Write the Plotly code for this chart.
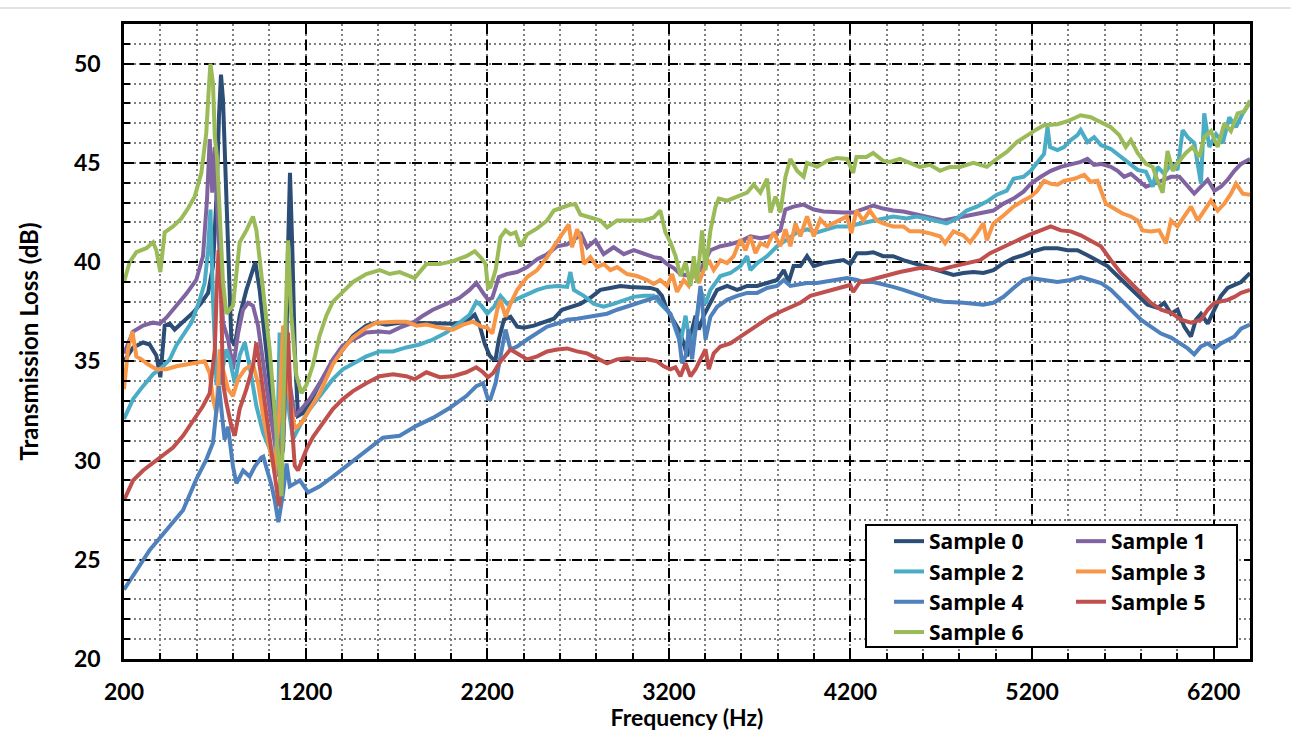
import plotly.graph_objects as go

# ---------------- data ----------------
f0 = [200, 250, 305, 341, 378, 400, 424, 452, 479, 525, 580, 626, 663, 690, 709, 723, 734, 745, 760, 773,
      791, 810, 837, 874, 901, 923, 947, 975, 1002, 1030, 1054, 1076, 1094, 1103, 1114, 1127, 1140, 1158, 1186,
      1223, 1278, 1350, 1405, 1461, 1534, 1589, 1644, 1718, 1791, 1865, 1938, 2012, 2085, 2131, 2159, 2186,
      2213, 2232, 2246, 2264, 2292, 2328, 2365, 2402, 2457, 2512, 2567, 2612, 2658, 2713, 2768, 2823, 2878,
      2933, 2988, 3043, 3098, 3135, 3162, 3190, 3227, 3255, 3282, 3301, 3328, 3347, 3365, 3392, 3420, 3466,
      3521, 3576, 3631, 3686, 3741, 3796, 3833, 3860, 3887, 3924, 3961, 3998, 4052, 4107, 4162, 4199, 4236,
      4288, 4325, 4380, 4435, 4491, 4546, 4601, 4656, 4712, 4767, 4822, 4877, 4932, 4987, 5043, 5098, 5153,
      5193, 5266, 5340, 5395, 5450, 5505, 5560, 5615, 5671, 5726, 5781, 5836, 5891, 5928, 5965, 6001, 6038,
      6075, 6102, 6130, 6167, 6204, 6240, 6277, 6314, 6351, 6400]
s0 = [35.0, 35.7, 35.95, 35.85, 35.3, 34.2, 36.8, 36.9, 36.6, 37.0, 37.45, 37.95, 38.45, 39.8, 43.2, 47.35,
      49.45, 48.2, 44.0, 39.8, 36.1, 35.8, 37.3, 38.6, 39.3, 40.0, 38.6, 36.3, 33.9, 31.4, 29.6, 30.6, 35.6,
      40.6, 44.5, 40.6, 35.6, 32.25, 32.4, 32.9, 33.9, 34.9, 35.6, 36.3, 36.8, 36.95, 36.85, 36.95, 36.95,
      36.95, 36.9, 36.9, 37.0, 37.35, 36.8, 35.9, 35.3, 35.1, 35.1, 36.1, 37.1, 37.25, 36.75, 36.7, 36.8,
      37.0, 37.15, 37.6, 37.75, 37.9, 38.2, 38.6, 38.7, 38.8, 38.75, 38.7, 38.7, 38.6, 38.3, 37.6, 37.0, 36.6,
      35.9, 35.25, 36.6, 37.3, 36.6, 37.3, 37.8, 38.6, 38.8, 38.6, 38.8, 38.8, 38.95, 39.1, 39.6, 39.0, 39.8,
      39.8, 40.3, 39.8, 39.95, 40.05, 40.1, 39.9, 40.45, 40.45, 40.5, 40.3, 40.3, 40.1, 39.95, 39.85, 39.7,
      39.5, 39.35, 39.45, 39.5, 39.45, 39.6, 39.95, 40.2, 40.35, 40.5, 40.7, 40.7, 40.6, 40.6, 40.35, 40.1,
      39.8, 39.3, 38.8, 38.3, 37.85, 37.7, 37.95, 37.4, 37.6, 36.75, 36.25, 37.1, 37.4, 36.9, 37.6, 38.3,
      38.7, 38.85, 39.0, 39.45]

f1 = [200, 250, 305, 360, 396, 433, 488, 543, 598, 635, 657, 672, 686, 700, 712, 727, 745, 773, 800, 828,
      855, 883, 910, 938, 966, 1002, 1030, 1054, 1076, 1094, 1112, 1140, 1177, 1223, 1278, 1350, 1405, 1461,
      1534, 1608, 1663, 1718, 1791, 1846, 1901, 1975, 2048, 2103, 2140, 2177, 2204, 2228, 2264, 2310, 2365,
      2420, 2475, 2530, 2585, 2640, 2695, 2713, 2750, 2796, 2841, 2896, 2952, 3007, 3062, 3117, 3153, 3190,
      3227, 3264, 3319, 3374, 3429, 3484, 3539, 3594, 3649, 3704, 3759, 3814, 3842, 3887, 3942, 3998, 4052,
      4107, 4162, 4215, 4270, 4325, 4380, 4435, 4491, 4546, 4601, 4656, 4712, 4767, 4822, 4877, 4932, 4987,
      5043, 5098, 5153, 5193, 5248, 5303, 5358, 5413, 5468, 5505, 5542, 5579, 5634, 5671, 5707, 5744, 5781,
      5827, 5873, 5919, 5965, 6011, 6057, 6093, 6130, 6167, 6204, 6240, 6277, 6314, 6351, 6400]
s1 = [35.4, 36.5, 36.8, 36.95, 36.9, 37.2, 37.8, 38.4, 39.1, 40.3, 43.15, 46.2, 43.5, 45.8, 43.0, 39.8,
      36.95, 36.1, 34.6, 36.4, 37.6, 37.95, 37.8, 36.8, 34.8, 32.6, 30.9, 29.2, 33.9, 36.95, 33.9, 32.25,
      32.6, 33.1, 33.9, 35.1, 35.8, 36.1, 36.45, 36.5, 36.45, 36.7, 36.95, 37.3, 37.6, 37.9, 38.2, 38.6,
      38.95, 38.45, 38.1, 38.2, 39.25, 39.4, 39.5, 39.75, 40.15, 40.4, 40.8, 40.9, 41.25, 41.5, 40.75, 41.1,
      40.4, 40.75, 40.4, 40.6, 40.4, 40.25, 40.2, 39.9, 39.7, 39.4, 39.3, 39.6, 40.6, 40.8, 40.9, 41.05,
      41.3, 41.2, 41.3, 41.6, 42.65, 42.8, 42.9, 42.65, 42.55, 42.5, 42.5, 42.5, 42.7, 42.85, 42.7, 42.6,
      42.55, 42.45, 42.35, 42.2, 42.1, 42.2, 42.3, 42.35, 42.45, 42.6, 42.95, 43.2, 43.55, 43.95, 44.3,
      44.6, 44.8, 44.9, 45.05, 45.2, 44.9, 44.95, 44.8, 44.6, 44.3, 44.45, 44.15, 43.8, 43.95, 44.15, 44.3,
      44.3, 43.8, 43.45, 43.8, 44.15, 43.6, 43.8, 44.15, 44.6, 44.95, 45.2]

f2 = [200, 250, 305, 360, 415, 452, 488, 525, 571, 617, 644, 663, 676, 690, 709, 727, 745, 764, 782, 810,
      837, 865, 892, 929, 966, 1002, 1030, 1048, 1057, 1072, 1094, 1112, 1131, 1168, 1223, 1278, 1350, 1405,
      1461, 1534, 1608, 1681, 1754, 1828, 1901, 1975, 2048, 2103, 2140, 2168, 2200, 2237, 2273, 2310, 2365,
      2420, 2475, 2530, 2585, 2640, 2658, 2677, 2732, 2786, 2841, 2896, 2952, 3007, 3062, 3117, 3153, 3190,
      3209, 3237, 3264, 3292, 3319, 3347, 3374, 3402, 3429, 3484, 3539, 3594, 3631, 3649, 3686, 3741, 3796,
      3851, 3906, 3961, 4016, 4071, 4126, 4181, 4236, 4252, 4325, 4380, 4435, 4509, 4564, 4620, 4675, 4730,
      4785, 4840, 4896, 4951, 5006, 5061, 5098, 5153, 5193, 5229, 5266, 5285, 5299, 5340, 5376, 5413, 5450,
      5468, 5505, 5542, 5579, 5634, 5671, 5707, 5744, 5781, 5827, 5864, 5891, 5928, 5965, 6001, 6029, 6057,
      6093, 6130, 6148, 6176, 6213, 6250, 6286, 6323, 6360, 6400]
s2 = [32.1, 33.1, 33.75, 34.35, 34.75, 35.1, 35.8, 36.3, 36.95, 38.1, 38.95, 40.6, 42.65, 38.1, 33.9, 33.9,
      34.75, 35.6, 35.1, 33.9, 35.3, 35.95, 34.75, 32.75, 31.4, 30.6, 29.7, 32.25, 36.45, 30.6, 33.9, 32.25,
      31.1, 31.75, 32.6, 33.25, 34.1, 34.6, 34.9, 35.25, 35.5, 35.5, 35.7, 35.85, 36.1, 36.45, 36.95, 37.35,
      38.0, 37.8, 37.4, 37.75, 38.3, 37.9, 38.15, 38.4, 38.6, 38.75, 38.8, 38.75, 39.5, 38.6, 38.3, 37.9,
      37.75, 37.9, 38.1, 38.25, 38.3, 38.3, 37.9, 37.6, 37.4, 36.6, 35.9, 37.3, 35.75, 36.6, 38.6, 37.9,
      38.6, 39.3, 39.45, 39.8, 40.3, 39.6, 39.95, 40.3, 40.8, 41.15, 41.5, 41.65, 41.5, 41.65, 41.8, 41.8,
      41.9, 41.95, 42.1, 42.2, 42.3, 42.2, 42.3, 42.2, 42.05, 41.95, 42.2, 42.6, 42.8, 43.05, 43.4, 43.6,
      44.2, 44.3, 44.6, 45.0, 45.45, 46.8, 45.8, 45.65, 45.8, 46.15, 46.4, 46.65, 46.05, 46.3, 45.9, 45.7,
      45.45, 45.15, 44.95, 44.65, 44.55, 43.8, 44.8, 44.45, 44.95, 44.65, 46.65, 46.3, 46.0, 43.95, 47.5,
      45.8, 46.45, 46.0, 47.3, 46.8, 47.5, 48.05]

f3 = [200, 222, 246, 268, 296, 332, 378, 433, 488, 543, 598, 644, 672, 690, 709, 727, 745, 773, 800, 828,
      865, 910, 938, 966, 1002, 1030, 1054, 1076, 1094, 1112, 1140, 1177, 1223, 1278, 1350, 1405, 1461,
      1534, 1589, 1644, 1699, 1754, 1810, 1865, 1938, 2012, 2067, 2122, 2168, 2200, 2228, 2255, 2273, 2301,
      2328, 2365, 2420, 2475, 2530, 2567, 2603, 2631, 2649, 2667, 2695, 2713, 2732, 2768, 2805, 2841, 2878,
      2915, 2970, 3025, 3080, 3117, 3153, 3190, 3218, 3245, 3282, 3310, 3337, 3365, 3392, 3420, 3447, 3484,
      3521, 3557, 3594, 3622, 3649, 3677, 3704, 3741, 3777, 3814, 3842, 3869, 3897, 3924, 3961, 3998, 4034,
      4071, 4107, 4144, 4181, 4205, 4233, 4270, 4307, 4344, 4380, 4435, 4491, 4527, 4582, 4638, 4693, 4721,
      4767, 4822, 4859, 4896, 4932, 4951, 4987, 5043, 5098, 5153, 5193, 5229, 5266, 5303, 5340, 5376, 5432,
      5487, 5523, 5560, 5579, 5606, 5652, 5698, 5744, 5781, 5808, 5854, 5900, 5937, 5965, 6001, 6038, 6075,
      6112, 6148, 6185, 6222, 6259, 6295, 6323, 6360, 6400]
s3 = [33.6, 35.6, 36.5, 35.25, 35.1, 34.85, 34.6, 34.6, 34.75, 34.85, 34.9, 35.0, 34.4, 33.1, 32.4, 35.6,
      34.6, 33.6, 33.25, 34.1, 34.6, 34.85, 33.9, 32.25, 30.6, 29.4, 32.25, 36.8, 35.6, 33.25, 31.6, 31.9,
      32.6, 33.4, 34.85, 35.6, 36.2, 36.7, 36.95, 37.0, 37.0, 37.0, 36.8, 36.85, 36.7, 36.6, 36.85, 37.0,
      36.75, 36.7, 36.4, 37.6, 38.1, 37.25, 37.9, 38.6, 39.25, 39.6, 40.25, 40.8, 41.25, 41.65, 41.9, 40.75,
      41.65, 41.25, 39.9, 40.25, 39.75, 39.9, 39.6, 39.75, 39.4, 39.3, 39.1, 38.9, 39.1, 38.8, 39.4, 38.5,
      39.1, 38.8, 39.45, 38.95, 39.6, 40.1, 39.6, 40.1, 39.95, 40.3, 41.15, 40.6, 41.3, 40.45, 40.95, 40.8,
      41.5, 40.8, 41.65, 40.8, 41.95, 41.3, 42.3, 41.3, 42.15, 41.8, 41.95, 42.15, 42.3, 41.45, 42.6, 42.1,
      42.6, 42.1, 41.95, 41.8, 41.8, 41.55, 41.55, 41.45, 41.3, 40.95, 41.55, 41.35, 41.0, 41.45, 41.95,
      41.1, 41.95, 42.35, 42.8, 43.1, 43.3, 43.6, 44.1, 43.95, 43.9, 44.1, 44.2, 44.4, 44.05, 44.1, 43.6,
      42.95, 42.7, 42.45, 42.3, 42.1, 41.6, 41.55, 41.6, 40.95, 42.1, 41.8, 42.3, 42.8, 42.1, 42.6, 43.1,
      42.6, 42.95, 43.45, 43.95, 43.45, 43.4]

f4 = [200, 342, 434, 525, 598, 653, 690, 709, 723, 736, 754, 773, 800, 819, 846, 856, 892, 920, 956, 967,
      984, 1011, 1030, 1050, 1076, 1095, 1113, 1168, 1214, 1278, 1352, 1443, 1535, 1626, 1718, 1810, 1901,
      1993, 2085, 2140, 2177, 2204, 2218, 2246, 2273, 2301, 2328, 2365, 2420, 2475, 2530, 2585, 2640, 2695,
      2750, 2805, 2860, 2915, 2970, 3025, 3080, 3135, 3172, 3208, 3227, 3255, 3273, 3292, 3310, 3328, 3347,
      3374, 3402, 3429, 3466, 3521, 3576, 3631, 3686, 3741, 3796, 3833, 3869, 3906, 3961, 4016, 4071, 4126,
      4181, 4236, 4270, 4325, 4380, 4435, 4491, 4546, 4601, 4656, 4712, 4767, 4822, 4877, 4932, 4987, 5043,
      5098, 5153, 5193, 5266, 5340, 5413, 5468, 5523, 5579, 5634, 5689, 5744, 5799, 5854, 5910, 5965, 6020,
      6057, 6093, 6130, 6167, 6204, 6240, 6277, 6314, 6351, 6400]
s4 = [23.5, 25.5, 26.5, 27.5, 29.05, 30.05, 30.9, 32.6, 33.75, 32.6, 31.05, 31.7, 29.7, 28.85, 29.4, 29.5,
      29.2, 29.7, 30.15, 30.2, 29.65, 28.8, 28.0, 26.9, 28.35, 29.85, 28.7, 29.0, 28.4, 28.7, 29.2, 29.85,
      30.45, 31.15, 31.25, 31.75, 32.15, 32.65, 33.25, 33.75, 33.9, 33.1, 33.1, 33.9, 35.25, 36.6, 35.6,
      35.75, 36.1, 36.4, 36.75, 36.9, 37.1, 37.15, 37.25, 37.35, 37.4, 37.6, 37.75, 37.9, 38.1, 38.25, 37.8,
      37.4, 36.95, 36.25, 34.9, 35.25, 36.6, 35.1, 36.6, 38.8, 36.1, 37.25, 37.75, 38.1, 38.3, 38.45, 38.45,
      38.7, 38.8, 39.1, 38.8, 38.85, 38.95, 38.95, 39.05, 39.1, 39.2, 39.1, 39.0, 39.0, 38.85, 38.75, 38.6,
      38.45, 38.25, 38.1, 38.0, 38.0, 37.95, 37.9, 37.85, 37.95, 38.25, 38.7, 39.1, 39.2, 39.1, 39.0, 39.1,
      39.25, 39.1, 38.95, 38.6, 38.1, 37.6, 37.1, 36.75, 36.4, 36.2, 35.9, 35.65, 35.35, 35.75, 35.9, 35.65,
      35.9, 36.1, 36.25, 36.65, 36.85]

f5 = [200, 250, 305, 360, 415, 470, 525, 580, 635, 672, 700, 712, 721, 732, 745, 764, 791, 810, 837, 874,
      910, 929, 947, 984, 1021, 1054, 1076, 1094, 1103, 1121, 1140, 1158, 1204, 1241, 1295, 1350, 1405,
      1461, 1534, 1608, 1681, 1754, 1800, 1865, 1938, 2012, 2085, 2140, 2177, 2204, 2232, 2273, 2328, 2365,
      2420, 2475, 2530, 2585, 2640, 2695, 2750, 2805, 2860, 2915, 2970, 3025, 3080, 3135, 3172, 3208, 3236,
      3264, 3292, 3319, 3347, 3374, 3402, 3420, 3447, 3484, 3539, 3594, 3649, 3704, 3759, 3814, 3869, 3924,
      3979, 4034, 4089, 4144, 4199, 4215, 4252, 4307, 4362, 4417, 4472, 4527, 4582, 4638, 4693, 4748, 4803,
      4859, 4914, 4969, 5024, 5080, 5135, 5190, 5248, 5303, 5358, 5413, 5468, 5523, 5579, 5634, 5689, 5744,
      5799, 5854, 5910, 5965, 6020, 6075, 6130, 6167, 6204, 6240, 6277, 6314, 6351, 6400]
s5 = [28.0, 29.0, 29.5, 29.9, 30.25, 30.65, 31.25, 32.0, 32.75, 33.4, 35.6, 38.95, 40.6, 39.3, 33.9, 32.9,
      31.75, 31.25, 32.6, 33.6, 34.75, 35.95, 34.75, 32.25, 29.75, 27.7, 31.4, 35.6, 36.45, 32.25, 29.75,
      29.5, 30.55, 31.2, 31.9, 32.6, 33.1, 33.5, 33.9, 34.25, 34.35, 34.25, 34.1, 34.45, 34.2, 34.25, 34.45,
      34.7, 34.45, 34.2, 34.4, 35.0, 35.6, 35.4, 35.1, 35.25, 35.5, 35.6, 35.65, 35.5, 35.4, 35.15, 34.9,
      35.1, 35.15, 35.1, 35.1, 35.0, 34.75, 34.6, 34.7, 34.25, 34.9, 34.25, 34.6, 35.1, 35.6, 34.6, 35.4,
      35.75, 35.9, 36.25, 36.6, 36.95, 37.25, 37.5, 37.75, 37.95, 38.3, 38.45, 38.55, 38.7, 38.85, 38.5,
      39.0, 39.1, 39.25, 39.35, 39.5, 39.6, 39.7, 39.7, 39.6, 39.75, 39.85, 39.95, 40.1, 40.45, 40.7, 40.95,
      41.2, 41.4, 41.6, 41.8, 41.6, 41.55, 41.35, 41.1, 40.8, 40.1, 39.45, 38.95, 38.45, 37.95, 37.6, 37.45,
      37.1, 36.95, 37.1, 37.6, 37.95, 38.0, 38.1, 38.25, 38.45, 38.6]

f6 = [200, 231, 268, 323, 360, 378, 400, 424, 470, 516, 552, 589, 626, 653, 668, 676, 690, 700, 712, 727,
      745, 764, 800, 837, 874, 910, 929, 966, 1002, 1039, 1067, 1085, 1103, 1121, 1149, 1177, 1204, 1240,
      1277, 1314, 1350, 1405, 1461, 1534, 1608, 1663, 1718, 1773, 1800, 1865, 1938, 2012, 2085, 2131, 2168,
      2191, 2204, 2218, 2246, 2273, 2301, 2328, 2356, 2383, 2420, 2475, 2530, 2567, 2612, 2658, 2686, 2713,
      2768, 2823, 2860, 2915, 2988, 3062, 3117, 3153, 3181, 3209, 3237, 3264, 3292, 3319, 3337, 3356, 3383,
      3402, 3429, 3457, 3475, 3521, 3576, 3631, 3667, 3704, 3741, 3759, 3787, 3814, 3842, 3869, 3906, 3942,
      3961, 4016, 4071, 4126, 4181, 4215, 4233, 4288, 4325, 4380, 4417, 4472, 4527, 4582, 4638, 4693, 4748,
      4803, 4877, 4951, 5006, 5061, 5116, 5172, 5227, 5266, 5340, 5395, 5468, 5523, 5579, 5634, 5680, 5716,
      5744, 5781, 5827, 5864, 5891, 5919, 5946, 5974, 6011, 6047, 6084, 6121, 6148, 6185, 6222, 6259, 6295,
      6332, 6369, 6400]
s6 = [39.0, 40.0, 40.5, 40.7, 41.0, 40.6, 39.5, 41.5, 41.8, 42.2, 42.7, 43.3, 44.5, 46.5, 48.9, 50.0, 49.0,
      46.3, 45.3, 42.7, 39.0, 37.4, 37.8, 41.0, 41.6, 42.3, 41.6, 38.6, 35.6, 31.4, 28.2, 35.6, 41.1, 37.3,
      34.3, 33.4, 33.8, 34.8, 36.3, 37.3, 38.0, 38.5, 39.0, 39.4, 39.6, 39.4, 39.5, 39.3, 39.2, 39.9, 39.9,
      40.05, 40.3, 40.55, 40.2, 39.9, 38.7, 38.75, 39.6, 41.25, 41.6, 41.4, 41.5, 40.8, 41.4, 41.7, 42.1,
      42.6, 42.75, 42.9, 42.9, 42.4, 42.25, 42.1, 41.75, 42.1, 42.1, 42.1, 42.25, 42.6, 41.5, 41.0, 40.3,
      39.3, 40.0, 38.8, 40.3, 39.0, 41.6, 39.6, 41.6, 42.8, 43.2, 43.1, 43.3, 43.5, 43.9, 43.5, 44.2, 42.5,
      43.3, 42.5, 44.3, 45.2, 44.6, 44.3, 45.0, 44.8, 45.1, 45.25, 45.2, 44.5, 45.3, 45.3, 45.5, 45.1, 45.05,
      45.2, 45.0, 44.8, 44.9, 44.6, 44.8, 44.8, 45.0, 44.8, 45.2, 45.55, 46.05, 46.4, 46.7, 46.9, 46.95,
      47.1, 47.4, 47.3, 47.05, 46.8, 46.4, 45.8, 46.15, 45.5, 44.95, 44.8, 44.1, 43.5, 45.6, 44.6, 45.1,
      45.5, 45.8, 45.3, 46.3, 46.6, 45.8, 47.0, 46.6, 47.5, 47.6, 48.15]

names = ["Sample 0", "Sample 1", "Sample 2", "Sample 3", "Sample 4", "Sample 5", "Sample 6"]
colors = ["#2C4D75", "#8064A2", "#4BACC6", "#F79646", "#4F81BD", "#C0504D", "#9BBB59"]
freqs = [f0, f1, f2, f3, f4, f5, f6]
values = [s0, s1, s2, s3, s4, s5, s6]
legend_of = ["legend", "legend2", "legend", "legend2", "legend", "legend2", "legend"]

x_ticks = [200, 1200, 2200, 3200, 4200, 5200, 6200]
y_ticks = [20, 25, 30, 35, 40, 45, 50]

FONT = "Lato, 'Open Sans', sans-serif"
LEG_FONT = "'Open Sans', Lato, sans-serif"

fig = go.Figure()
for name, col, fx, vy, lg in zip(names, colors, freqs, values, legend_of):
    fig.add_trace(go.Scatter(x=fx, y=vy, mode="lines", name=name, legend=lg,
                             legendgroup=name,
                             line=dict(color=col, width=4)))

W, H = 1291, 731
L, R, T, B = 124, 41, 24, 72
pw, ph = W - L - R, H - T - B


def px(xp):
    return (xp - L) / pw


def py(yp):
    return (H - B - yp) / ph


axis_common = dict(
    showline=True, linecolor="black", linewidth=2.5, mirror=True,
    ticks="inside", ticklen=6, tickwidth=1.5, tickcolor="black",
    showgrid=True, gridcolor="black", gridwidth=1.5, griddash="10px,6px",
    zeroline=False, automargin=False,
    tickfont=dict(family=FONT, size=23, color="black", weight="bold"),
)

legend_font = dict(family=LEG_FONT, size=21, color="black", weight="bold")

fig.update_layout(
    width=W, height=H,
    margin=dict(l=L, r=R, t=T, b=B),
    paper_bgcolor="white", plot_bgcolor="white",
    font=dict(family=FONT, color="black"),
    xaxis=dict(range=[200, 6400], tickmode="array", tickvals=x_ticks,
               ticktext=[str(v) for v in x_ticks], ticklabelstandoff=11,
               minor=dict(tickmode="linear", tick0=200, dtick=200, ticks="inside", ticklen=6,
                          tickwidth=1.5, tickcolor="black", showgrid=True,
                          gridcolor="#7f7f7f", gridwidth=1.5, griddash="2px,3px"),
               title=dict(text="Frequency (Hz)", standoff=15,
                          font=dict(family=FONT, size=23, color="black", weight="bold")),
               **axis_common),
    yaxis=dict(range=[20, 52], tickmode="array", tickvals=y_ticks,
               ticktext=[str(v) for v in y_ticks], ticklabelstandoff=16,
               minor=dict(tickmode="linear", tick0=20, dtick=1, ticks="inside", ticklen=6,
                          tickwidth=1.5, tickcolor="black", showgrid=True,
                          gridcolor="#7f7f7f", gridwidth=1.5, griddash="2px,3px"),
               title=dict(text="Transmission Loss (dB)", standoff=29,
                          font=dict(family=FONT, size=24, color="black", weight="bold")),
               **axis_common),
    legend=dict(x=px(889), y=py(521), xanchor="left", yanchor="top",
                bgcolor="rgba(0,0,0,0)", borderwidth=0, tracegroupgap=0,
                font=legend_font),
    legend2=dict(x=px(1071), y=py(521), xanchor="left", yanchor="top",
                 bgcolor="rgba(0,0,0,0)", borderwidth=0, tracegroupgap=0,
                 font=legend_font),
    shapes=[
        dict(type="rect", xref="paper", yref="paper",
             x0=px(866), x1=px(1237), y0=py(647), y1=py(525),
             fillcolor="white", line=dict(color="black", width=2), layer="above"),
        dict(type="line", xref="paper", yref="paper",
             x0=px(0), x1=px(1291), y0=py(8), y1=py(8),
             line=dict(color="#d9d9d9", width=1.5)),
    ],
    showlegend=True,
)

fig.write_html("out.html", config={"displayModeBar": False},
               post_script="document.body.style.margin='0';document.body.style.overflow='hidden';")
